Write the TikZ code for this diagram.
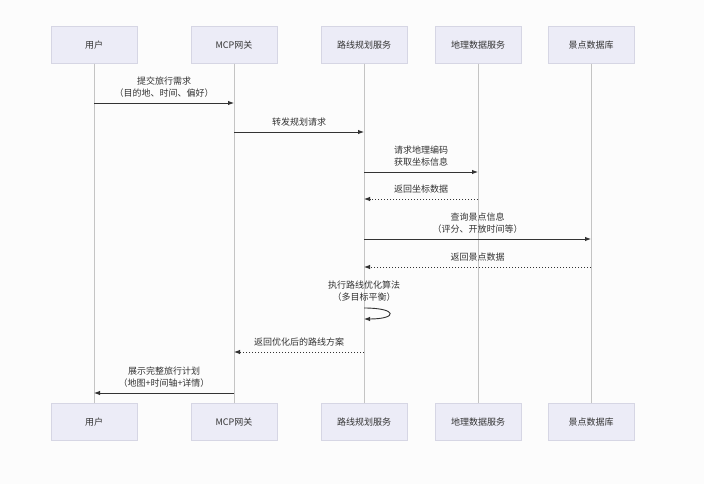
\documentclass[tikz,border=0pt]{standalone}
\usepackage{fontspec}
\setmainfont{Noto Sans CJK SC}
\usetikzlibrary{arrows.meta}

\definecolor{boxfill}{RGB}{236,236,247}
\definecolor{boxline}{RGB}{214,214,228}
\definecolor{lifegray}{RGB}{196,196,196}
\definecolor{msggray}{RGB}{51,51,51}
\definecolor{bggray}{RGB}{252,252,252}

\begin{document}
\begin{tikzpicture}[x=1pt, y=-1pt,
    actor/.style={rectangle, draw=boxline, fill=boxfill, minimum width=86pt, minimum height=37pt, font=\fontsize{9}{11}\selectfont, text=msggray},
    life/.style={draw=lifegray, line width=0.8pt},
    msg/.style={draw=msggray, line width=0.9pt, -{Latex[length=6pt,width=4.5pt]}},
    reply/.style={msg, dash pattern=on 1.5pt off 1.5pt},
    lbl/.style={above=5pt, inner sep=0pt, align=center, font=\fontsize{9}{12}\selectfont, text=msggray}]

    \fill[bggray] (0,0) rectangle (704,484);
    \useasboundingbox (0,0) rectangle (704,484);

    \node[actor] (yh) at (94,45) {用户};
    \node[actor] (mcp) at (234,45) {MCP网关};
    \node[actor] (lx) at (364,45) {路线规划服务};
    \node[actor] (dl) at (478,45) {地理数据服务};
    \node[actor] (jd) at (591,45) {景点数据库};

    \node[actor] (yhB) at (94,422) {用户};
    \node[actor] (mcpB) at (234,422) {MCP网关};
    \node[actor] (lxB) at (364,422) {路线规划服务};
    \node[actor] (dlB) at (478,422) {地理数据服务};
    \node[actor] (jdB) at (591,422) {景点数据库};

    \draw[life] (yh) -- (yhB);
    \draw[life] (mcp) -- (mcpB);
    \draw[life] (lx) -- (lxB);
    \draw[life] (dl) -- (dlB);
    \draw[life] (jd) -- (jdB);

    \coordinate (y1) at (0,103);
    \coordinate (y2) at (0,132);
    \coordinate (y3) at (0,172);
    \coordinate (y4) at (0,199);
    \coordinate (y5) at (0,239);
    \coordinate (y6) at (0,267);
    \coordinate (y7) at (0,308);
    \coordinate (y7b) at (0,319);
    \coordinate (y8) at (0,352);
    \coordinate (y9) at (0,393);

    \draw[msg] (yh |- y1) -- node[lbl] (t1) {提交旅行需求\\（目的地、时间、偏好）} (mcp |- y1);
    \draw[msg] (mcp |- y2) -- node[lbl] (t2) {转发规划请求} (lx |- y2);
    \draw[msg] (lx |- y3) -- node[lbl] (t3) {请求地理编码\\获取坐标信息} (dl |- y3);
    \draw[reply] (dl |- y4) -- node[lbl] (t4) {返回坐标数据} (lx |- y4);
    \draw[msg] (lx |- y5) -- node[lbl] (t5) {查询景点信息\\（评分、开放时间等）} (jd |- y5);
    \draw[reply] (jd |- y6) -- node[lbl] (t6) {返回景点数据} (lx |- y6);
    \draw[msg] (lx |- y7) .. controls +(34,0) and +(34,0) .. (lx |- y7b);
    \node[lbl, above=1pt] (t7) at (lx |- y7) {执行路线优化算法\\（多目标平衡）};
    \draw[reply] (lx |- y8) -- node[lbl] (t8) {返回优化后的路线方案} (mcp |- y8);
    \draw[msg] (mcp |- y9) -- node[lbl] (t9) {展示完整旅行计划\\（地图+时间轴+详情）} (yh |- y9);
\end{tikzpicture}
\end{document}
